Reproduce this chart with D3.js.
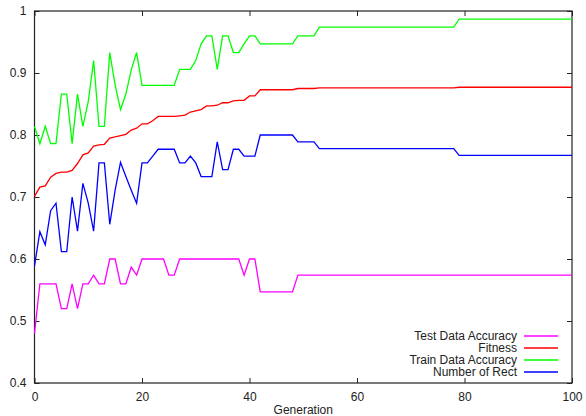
<!DOCTYPE html>
<html>
<head>
<meta charset="utf-8">
<script src="https://cdn.jsdelivr.net/npm/d3@7"></script>
<style>
  body { margin: 0; background: #fff; }
  svg text { font-family: "Liberation Sans", Arial, sans-serif; font-size: 12px; fill: #222; }
</style>
</head>
<body>
<svg id="chart" width="586" height="416"></svg>
<script>
// generation index, one entry per run
const generations = d3.range(0, 101);

const testAccuracy = [
  0.48, 0.56, 0.56, 0.56, 0.56, 0.52, 0.52, 0.56, 0.52, 0.56,
  0.56, 0.574, 0.56, 0.56, 0.6, 0.6, 0.56, 0.56, 0.587, 0.574,
  0.6, 0.6, 0.6, 0.6, 0.6, 0.574, 0.574, 0.6, 0.6, 0.6,
  0.6, 0.6, 0.6, 0.6, 0.6, 0.6, 0.6, 0.6, 0.6, 0.574,
  0.6, 0.6, 0.547, 0.547, 0.547, 0.547, 0.547, 0.547, 0.547, 0.574,
  0.574, 0.574, 0.574, 0.574, 0.574, 0.574, 0.574, 0.574, 0.574, 0.574,
  0.574, 0.574, 0.574, 0.574, 0.574, 0.574, 0.574, 0.574, 0.574, 0.574,
  0.574, 0.574, 0.574, 0.574, 0.574, 0.574, 0.574, 0.574, 0.574, 0.574,
  0.574, 0.574, 0.574, 0.574, 0.574, 0.574, 0.574, 0.574, 0.574, 0.574,
  0.574, 0.574, 0.574, 0.574, 0.574, 0.574, 0.574, 0.574, 0.574, 0.574,
  0.574
];

const fitness = [
  0.701, 0.716, 0.718, 0.732, 0.738, 0.740, 0.740, 0.743, 0.754, 0.768,
  0.771, 0.782, 0.784, 0.785, 0.795, 0.797, 0.799, 0.801, 0.808, 0.811,
  0.818, 0.818, 0.823, 0.830, 0.830, 0.830, 0.830, 0.831, 0.832, 0.837,
  0.839, 0.841, 0.847, 0.847, 0.848, 0.852, 0.852, 0.855, 0.856, 0.856,
  0.863, 0.863, 0.873, 0.873, 0.873, 0.873, 0.873, 0.873, 0.873, 0.875,
  0.875, 0.875, 0.875, 0.876, 0.876, 0.876, 0.876, 0.876, 0.876, 0.876,
  0.876, 0.876, 0.876, 0.876, 0.876, 0.876, 0.876, 0.876, 0.876, 0.876,
  0.876, 0.876, 0.876, 0.876, 0.876, 0.876, 0.876, 0.876, 0.876, 0.877,
  0.877, 0.877, 0.877, 0.877, 0.877, 0.877, 0.877, 0.877, 0.877, 0.877,
  0.877, 0.877, 0.877, 0.877, 0.877, 0.877, 0.877, 0.877, 0.877, 0.877,
  0.877
];

const trainAccuracy = [
  0.814, 0.786, 0.814, 0.786, 0.786, 0.866, 0.866, 0.786, 0.866, 0.814,
  0.854, 0.92, 0.814, 0.814, 0.933, 0.881, 0.841, 0.866, 0.905, 0.933,
  0.88, 0.88, 0.88, 0.88, 0.88, 0.88, 0.88, 0.906, 0.906, 0.906,
  0.92, 0.947, 0.96, 0.96, 0.906, 0.96, 0.96, 0.933, 0.933, 0.947,
  0.96, 0.96, 0.947, 0.947, 0.947, 0.947, 0.947, 0.947, 0.947, 0.96,
  0.96, 0.96, 0.96, 0.974, 0.974, 0.974, 0.974, 0.974, 0.974, 0.974,
  0.974, 0.974, 0.974, 0.974, 0.974, 0.974, 0.974, 0.974, 0.974, 0.974,
  0.974, 0.974, 0.974, 0.974, 0.974, 0.974, 0.974, 0.974, 0.974, 0.987,
  0.987, 0.987, 0.987, 0.987, 0.987, 0.987, 0.987, 0.987, 0.987, 0.987,
  0.987, 0.987, 0.987, 0.987, 0.987, 0.987, 0.987, 0.987, 0.987, 0.987,
  0.987
];

const numberOfRect = [
  0.589, 0.644, 0.623, 0.678, 0.69, 0.612, 0.612, 0.70, 0.645, 0.722,
  0.69, 0.645, 0.755, 0.755, 0.656, 0.711, 0.756, 0.733, 0.711, 0.69,
  0.755, 0.755, 0.766, 0.777, 0.777, 0.777, 0.777, 0.755, 0.755, 0.766,
  0.755, 0.733, 0.733, 0.733, 0.789, 0.744, 0.744, 0.777, 0.777, 0.766,
  0.766, 0.766, 0.80, 0.80, 0.80, 0.80, 0.80, 0.80, 0.80, 0.789,
  0.789, 0.789, 0.789, 0.778, 0.778, 0.778, 0.778, 0.778, 0.778, 0.778,
  0.778, 0.778, 0.778, 0.778, 0.778, 0.778, 0.778, 0.778, 0.778, 0.778,
  0.778, 0.778, 0.778, 0.778, 0.778, 0.778, 0.778, 0.778, 0.778, 0.767,
  0.767, 0.767, 0.767, 0.767, 0.767, 0.767, 0.767, 0.767, 0.767, 0.767,
  0.767, 0.767, 0.767, 0.767, 0.767, 0.767, 0.767, 0.767, 0.767, 0.767,
  0.767
];

const seriesNames = ["Test Data Accuracy", "Fitness", "Train Data Accuracy", "Number of Rect"];
const seriesColors = ["#ff00ff", "#ff0000", "#00ff00", "#0000ff"];
const xTicks = [0, 20, 40, 60, 80, 100];
const yTicks = [0.4, 0.5, 0.6, 0.7, 0.8, 0.9, 1];

const series = [testAccuracy, fitness, trainAccuracy, numberOfRect];

const svg = d3.select("#chart");
const plotLeft = 34.5, plotRight = 572, plotTop = 11, plotBottom = 383;

const x = d3.scaleLinear().domain([0, 100]).range([plotLeft, plotRight]);
const y = d3.scaleLinear().domain([0.4, 1]).range([plotBottom, plotTop]);

// mirrored axes, gnuplot style (ticks pointing inward)
const axisB = d3.axisBottom(x).tickValues(xTicks).tickSizeInner(-5).tickSizeOuter(0).tickPadding(9).tickFormat(d3.format("d"));
const axisT = d3.axisTop(x).tickValues(xTicks).tickSizeInner(-5).tickSizeOuter(0).tickFormat("");
const axisL = d3.axisLeft(y).tickValues(yTicks).tickSizeInner(-5).tickSizeOuter(0).tickPadding(8).tickFormat(d => d === 1 ? "1" : d3.format(".1f")(d));
const axisR = d3.axisRight(y).tickValues(yTicks).tickSizeInner(-5).tickSizeOuter(0).tickFormat("");

function styleAxis(g) {
  g.select(".domain").remove();
  g.selectAll(".tick line").attr("stroke", "#222");
  g.selectAll(".tick text").attr("font-size", 12).attr("font-family", "Liberation Sans, Arial, sans-serif").attr("fill", "#222");
}

svg.append("g").attr("transform", `translate(0,${plotBottom})`).call(axisB).call(styleAxis);
svg.append("g").attr("transform", `translate(0,${plotTop})`).call(axisT).call(styleAxis);
svg.append("g").attr("transform", `translate(${plotLeft},0)`).call(axisL).call(styleAxis);
svg.append("g").attr("transform", `translate(${plotRight},0)`).call(axisR).call(styleAxis);

// border
svg.append("rect")
  .attr("x", plotLeft).attr("y", plotTop)
  .attr("width", plotRight - plotLeft).attr("height", plotBottom - plotTop)
  .attr("fill", "none").attr("stroke", "#222").attr("stroke-width", 1.2);

svg.append("text")
  .attr("x", (plotLeft + plotRight) / 2).attr("y", 414)
  .attr("text-anchor", "middle")
  .text("Generation");

const line = d3.line()
  .x((d, i) => x(generations[i]))
  .y(d => y(d));

svg.selectAll("path.series")
  .data(series)
  .join("path")
    .attr("class", "series")
    .attr("fill", "none")
    .attr("stroke", (d, i) => seriesColors[i])
    .attr("stroke-width", 1.3)
    .attr("stroke-linejoin", "miter")
    .attr("d", line);

// legend, bottom right
const legend = svg.append("g");
seriesNames.forEach((name, i) => {
  const ly = 336 + i * 12;
  legend.append("text")
    .attr("x", 517).attr("y", ly).attr("dy", "0.35em")
    .attr("text-anchor", "end")
    .text(name);
  legend.append("line")
    .attr("x1", 524).attr("x2", 558)
    .attr("y1", ly).attr("y2", ly)
    .attr("stroke", seriesColors[i]).attr("stroke-width", 1.3);
});
</script>
</body>
</html>
